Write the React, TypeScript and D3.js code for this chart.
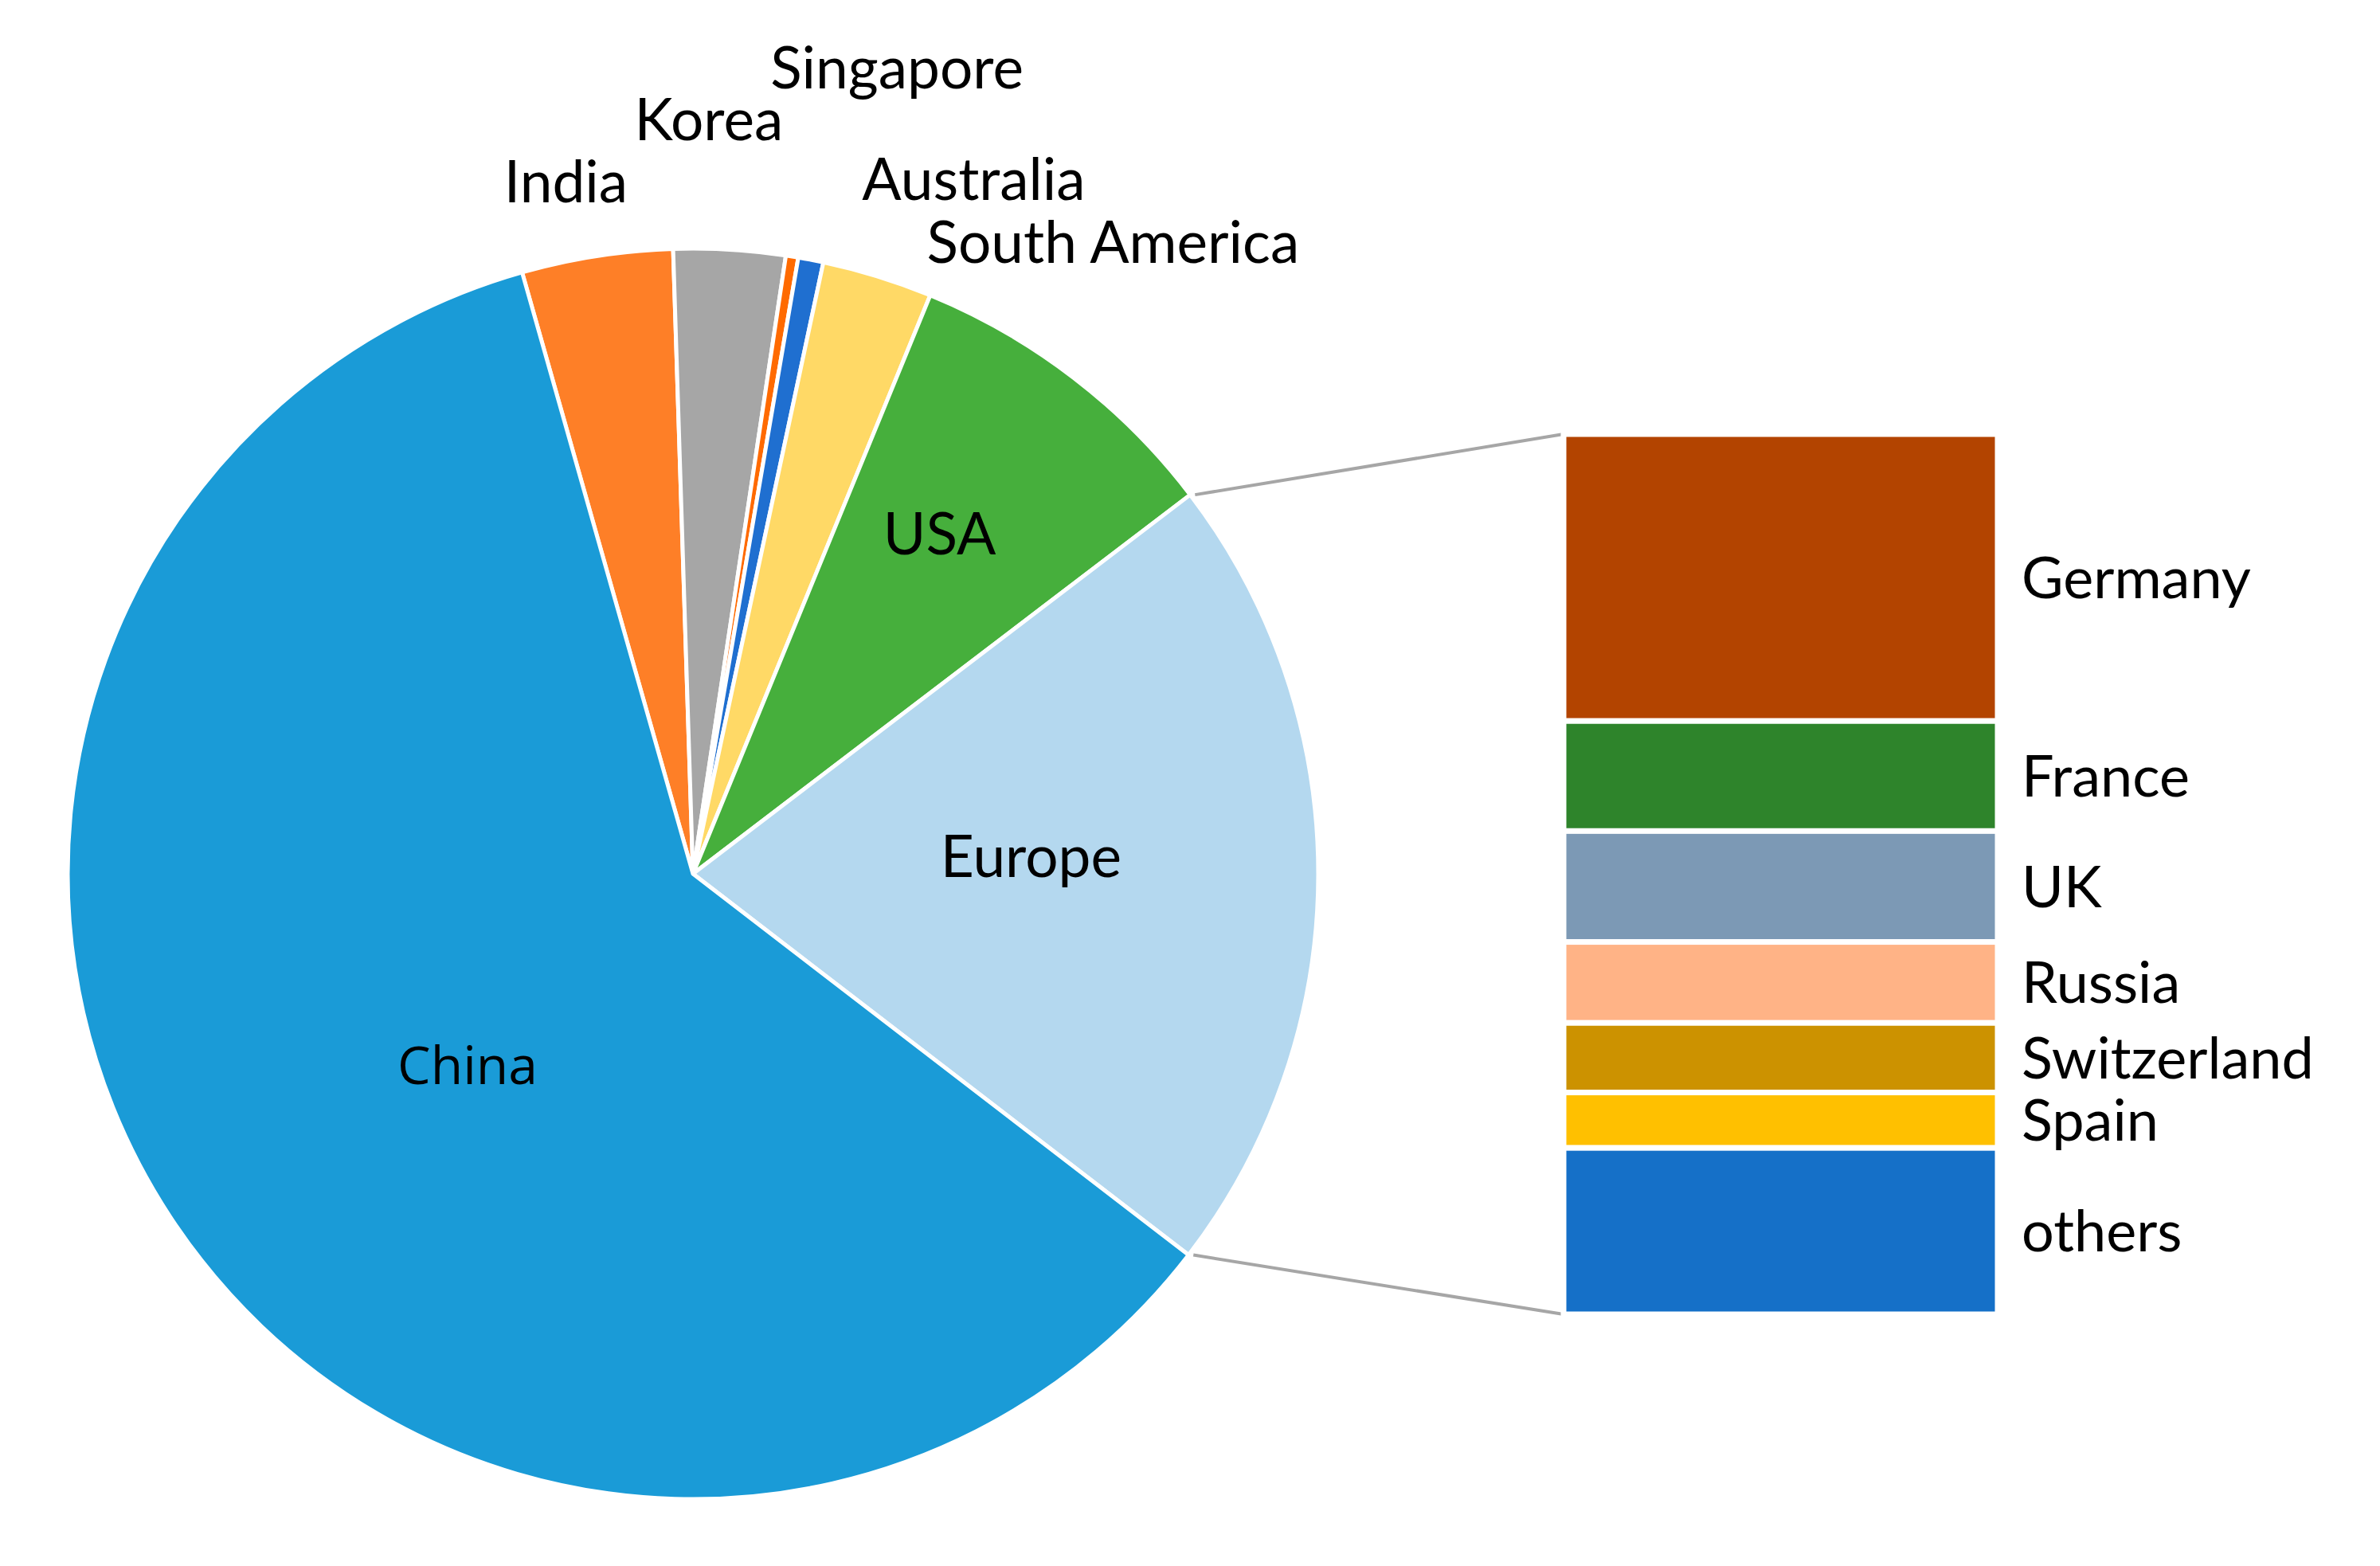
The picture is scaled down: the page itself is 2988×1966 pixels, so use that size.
import * as d3 from "d3";
import React from "react";

// main pie (percent of total)
const pieNames = ["India", "Korea", "Singapore", "Australia", "South America", "USA", "Europe", "China"];
const pieValues = [3.9, 2.88, 0.32, 0.65, 2.85, 8.44, 20.8, 60.16];
const pieColors = ["#fe7f27", "#a6a6a6", "#ff6a00", "#1f6fd0", "#ffd966", "#46af3c", "#b4d8ef", "#1a9bd7"];

// secondary bar (share of Europe)
const barNames = ["Germany", "France", "UK", "Russia", "Switzerland", "Spain", "others"];
const barValues = [32.6, 12.5, 12.6, 9.2, 7.9, 6.3, 18.9];
const barColors = ["#b34400", "#2e842b", "#7c99b5", "#ffb386", "#cc9200", "#ffc000", "#1570c8"];

const W = 2988;
const H = 1966;
const cx = 870;
const cy = 1097;
const R = 785;
const firstAngle = -15.86; // degrees, start of India slice

// label spots as [angle deg, distance from centre]
const labelSpot: Record<string, [number, number]> = {
  India: [-10.4, 884],
  Korea: [1.2, 947],
  Singapore: [14.2, 1044],
  Australia: [22, 941],
  "South America": [33.6, 953],
  USA: [35.9, 528],
  Europe: [87, 425],
  China: [229.7, 371],
};

const barLeft = 1963;
const barRight = 2508;
const barTop = 545;
const barBottom = 1650;

const font = "Lato, 'Open Sans', sans-serif";

export default function App() {
  const start = (firstAngle * Math.PI) / 180;
  const pie = d3
    .pie<number>()
    .sort(null)
    .value((d) => d)
    .startAngle(start)
    .endAngle(start + Math.PI * 2);
  const arcs = pie(pieValues);
  const arc = d3.arc<d3.PieArcDatum<number>>().innerRadius(0).outerRadius(R);

  const total = d3.sum(barValues);
  const y = d3.scaleLinear().domain([0, total]).range([barTop, barBottom]);
  const cum = d3.cumsum(barValues);

  const eu = arcs[pieNames.indexOf("Europe")];
  const pt = (a: number): [number, number] => [cx + R * Math.sin(a), cy - R * Math.cos(a)];
  const [e1x, e1y] = pt(eu.startAngle);
  const [e2x, e2y] = pt(eu.endAngle);

  return (
    <svg width={W} height={H} style={{ position: "absolute", left: 0, top: 0, background: "#fff" }}>
      <g transform={`translate(${cx},${cy})`}>
        {arcs.map((a, i) => (
          <path key={pieNames[i]} d={arc(a) || ""} fill={pieColors[i]} stroke="#fff" strokeWidth={5} strokeLinejoin="round" />
        ))}
      </g>
      <line x1={e1x + 6} y1={e1y} x2={barLeft} y2={barTop} stroke="#a6a6a6" strokeWidth={4} />
      <line x1={e2x + 6} y1={e2y} x2={barLeft} y2={barBottom} stroke="#a6a6a6" strokeWidth={4} />
      {barValues.map((v, i) => {
        const y0 = y(cum[i] - v);
        const y1 = y(cum[i]);
        return (
          <g key={barNames[i]}>
            <rect x={barLeft} y={y0} width={barRight - barLeft} height={y1 - y0} fill={barColors[i]} stroke="#fff" strokeWidth={7} />
            <text x={barRight + 30} y={(y0 + y1) / 2} dy="0.36em" fontFamily={font} fontSize={72} fill="#000">
              {barNames[i]}
            </text>
          </g>
        );
      })}
      {pieNames.map((n) => {
        const [ang, dist] = labelSpot[n];
        const t = (ang * Math.PI) / 180;
        const isChina = n === "China";
        return (
          <text
            key={n}
            x={cx + dist * Math.sin(t)}
            y={cy - dist * Math.cos(t)}
            dy="0.36em"
            textAnchor="middle"
            fontFamily={isChina ? "'Open Sans', sans-serif" : font}
            fontSize={isChina ? 66 : 73}
            fill="#000"
          >
            {n}
          </text>
        );
      })}
    </svg>
  );
}
